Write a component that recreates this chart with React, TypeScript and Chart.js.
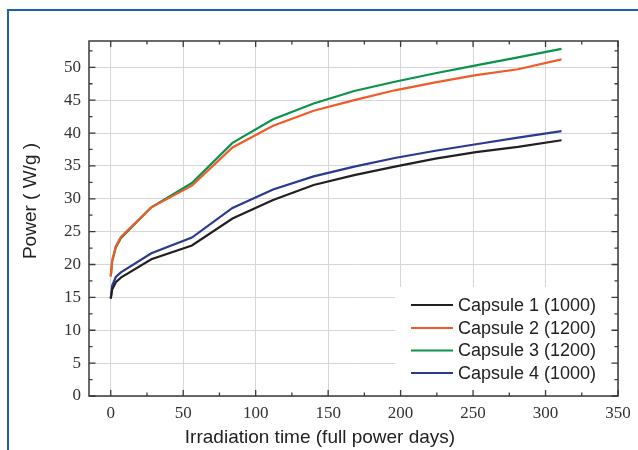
import React, { useEffect, useRef } from "react";
import { Chart, registerables } from "chart.js";

Chart.register(...registerables);

const days = [0, 1, 3.5, 7, 28, 56, 84, 112, 140, 168, 196, 224, 252, 281, 311];
const capsule1 = [14.8, 16.2, 17.3, 18.0, 20.8, 22.9, 27.0, 29.8, 32.1, 33.6, 34.9, 36.1, 37.1, 37.9, 38.9];
const capsule2 = [18.2, 20.6, 22.8, 24.2, 28.7, 32.0, 37.8, 41.1, 43.4, 45.0, 46.5, 47.7, 48.8, 49.7, 51.2];
const capsule3 = [18.2, 20.5, 22.6, 24.0, 28.7, 32.4, 38.5, 42.1, 44.5, 46.4, 47.8, 49.1, 50.3, 51.5, 52.8];
const capsule4 = [14.8, 16.8, 18.1, 18.8, 21.7, 24.1, 28.6, 31.4, 33.4, 34.9, 36.2, 37.3, 38.3, 39.3, 40.3];

const seriesLabels = ["Capsule 1 (1000)", "Capsule 2 (1200)", "Capsule 3 (1200)", "Capsule 4 (1000)"];
const seriesColors = ["#231f20", "#f15a29", "#0a944a", "#2b3990"];
const xTitle = "Irradiation time (full power days)";
const yTitle = "Power ( W/g )";

const framePlugin = {
  id: "framePlugin",
  beforeDraw(chart: any) {
    const ctx = chart.ctx;
    ctx.save();
    ctx.fillStyle = "#ffffff";
    ctx.fillRect(0, 0, chart.width, chart.height);
    ctx.fillStyle = "#1e5fa8";
    ctx.fillRect(7, 9, 700, 2);
    ctx.fillRect(7, 9, 2, 500);
    ctx.restore();
  },
  afterDraw(chart: any) {
    const ctx = chart.ctx;
    const a = chart.chartArea;
    const xs = chart.scales.x;
    const ys = chart.scales.y;
    ctx.save();
    // legend box
    ctx.fillStyle = "#ffffff";
    ctx.fillRect(395, 287, a.right - 395 - 1, a.bottom - 287 - 1);
    const rowY = [305, 328, 350.5, 373];
    ctx.font = "18px 'Liberation Sans', Arial, sans-serif";
    ctx.textBaseline = "middle";
    ctx.textAlign = "left";
    chart.data.datasets.forEach((ds: any, i: number) => {
      ctx.strokeStyle = ds.borderColor;
      ctx.lineWidth = 2;
      ctx.beginPath();
      ctx.moveTo(411, rowY[i]);
      ctx.lineTo(453, rowY[i]);
      ctx.stroke();
      ctx.fillStyle = "#222222";
      ctx.fillText(ds.label, 458, rowY[i] + 1);
    });
    // frame
    ctx.strokeStyle = "#3a3a3a";
    ctx.lineWidth = 1.5;
    ctx.strokeRect(a.left, a.top, a.right - a.left, a.bottom - a.top);
    // ticks
    ctx.lineWidth = 1.3;
    ctx.beginPath();
    for (let v = 0; v <= 350; v += 25) {
      const px = xs.getPixelForValue(v);
      const len = v % 50 === 0 ? 6 : 3.5;
      ctx.moveTo(px, a.bottom);
      ctx.lineTo(px, a.bottom - len);
      ctx.moveTo(px, a.top);
      ctx.lineTo(px, a.top + len);
    }
    for (let v = 0; v <= 52.5; v += 2.5) {
      const py = ys.getPixelForValue(v);
      const len = v % 5 === 0 ? 6.5 : 3.5;
      ctx.moveTo(a.left, py);
      ctx.lineTo(a.left + len, py);
      ctx.moveTo(a.right, py);
      ctx.lineTo(a.right - len, py);
    }
    ctx.stroke();
    // titles
    ctx.fillStyle = "#222222";
    ctx.font = "19px 'Liberation Sans', Arial, sans-serif";
    ctx.textAlign = "center";
    ctx.textBaseline = "alphabetic";
    ctx.fillText(xTitle, 320, 443);
    ctx.translate(36, 201);
    ctx.rotate(-Math.PI / 2);
    ctx.fillText(yTitle, 0, 0);
    ctx.restore();
  },
};

export default function App() {
  const ref = useRef<HTMLCanvasElement | null>(null);
  useEffect(() => {
    if (!ref.current) return;
    const series = [capsule1, capsule2, capsule3, capsule4];
    const chart = new Chart(ref.current, {
      type: "line",
      data: {
        datasets: series.map((s, i) => ({
          label: seriesLabels[i],
          data: s.map((y, j) => ({ x: days[j], y })),
          borderColor: seriesColors[i],
          backgroundColor: seriesColors[i],
          borderWidth: 2.2,
          pointRadius: 0,
          tension: 0,
          fill: false,
        })),
      },
      options: {
        animation: false,
        responsive: false,
        devicePixelRatio: 1,
        layout: { padding: { left: 0, right: 20, top: 41, bottom: 0 } },
        plugins: { legend: { display: false }, tooltip: { enabled: false } },
        scales: {
          x: {
            type: "linear",
            min: -15,
            max: 350,
            afterFit: (s: any) => { s.height = 54; },
            ticks: {
              stepSize: 50,
              includeBounds: false,
              padding: 7,
              color: "#333333",
              font: { family: "'Liberation Serif', 'Times New Roman', serif", size: 17 },
            },
            grid: { color: "#d6d6d6", lineWidth: 1, drawTicks: false },
            border: { display: false },
          },
          y: {
            type: "linear",
            min: 0,
            max: 54,
            afterFit: (s: any) => { s.width = 89; },
            ticks: {
              stepSize: 5,
              includeBounds: false,
              padding: 8,
              color: "#333333",
              font: { family: "'Liberation Serif', 'Times New Roman', serif", size: 17 },
            },
            grid: { color: "#d6d6d6", lineWidth: 1, drawTicks: false },
            border: { display: false },
          },
        },
      },
      plugins: [framePlugin],
    } as any);
    return () => chart.destroy();
  }, []);
  return (
    <div style={{ position: "fixed", left: 0, top: 0, width: 638, height: 450, background: "#fff" }}>
      <canvas ref={ref} width={638} height={450} style={{ display: "block" }} />
    </div>
  );
}
